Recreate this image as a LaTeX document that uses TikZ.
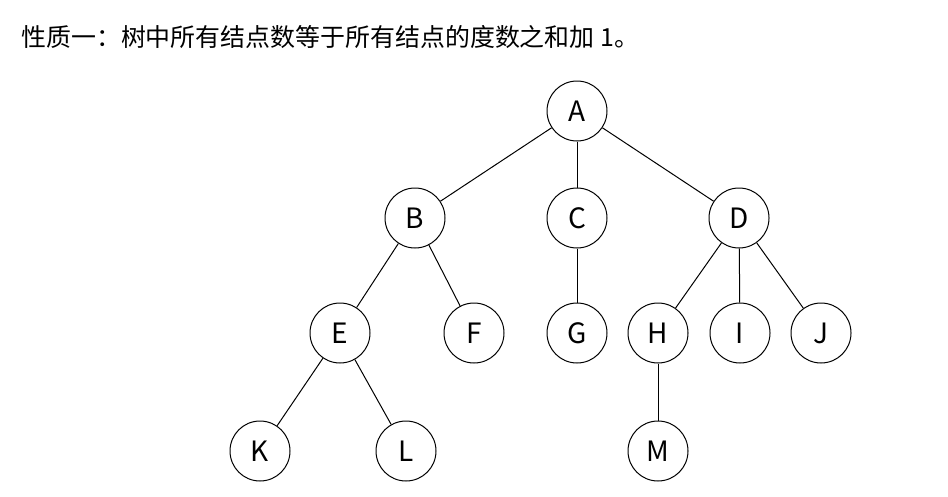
\documentclass[tikz,border=0pt]{standalone}
\usepackage{fontspec}
\setmainfont{Noto Sans CJK SC}
\usepackage{tikz}
\usetikzlibrary{positioning}

\begin{document}
\begin{tikzpicture}[x=0.75pt,y=-0.75pt,
  vertex/.style={draw,circle,line width=0.75pt,minimum size=45pt,inner sep=0pt,font=\fontsize{21}{21}\selectfont},
  link/.style={line width=0.75pt}]
  \useasboundingbox (0,0) rectangle (948,496);
  \node[anchor=base west,inner sep=0pt,font=\fontsize{18.7}{18.7}\selectfont] (title) at (21,46) {性质一：树中所有结点数等于所有结点的度数之和加 1。};
  % level 1
  \node[vertex] (A) at (577,111) {A};
  % level 2
  \node[vertex] (B) at (415,218) {B};
  \node[vertex] (C) at (577,218) {C};
  \node[vertex] (D) at (739,218) {D};
  % level 3
  \node[vertex] (E) at (340,333) {E};
  \node[vertex] (F) at (474,333) {F};
  \node[vertex] (G) at (577,333) {G};
  \node[vertex] (H) at (658,333) {H};
  \node[vertex] (I) at (740,333) {I};
  \node[vertex] (J) at (821,333) {J};
  % level 4
  \node[vertex] (K) at (260,451) {K};
  \node[vertex] (L) at (406,451) {L};
  \node[vertex] (M) at (658,451) {M};
  \draw[link] (A) -- (B);
  \draw[link] (A) -- (C);
  \draw[link] (A) -- (D);
  \draw[link] (B) -- (E);
  \draw[link] (B) -- (F);
  \draw[link] (C) -- (G);
  \draw[link] (D) -- (H);
  \draw[link] (D) -- (I);
  \draw[link] (D) -- (J);
  \draw[link] (E) -- (K);
  \draw[link] (E) -- (L);
  \draw[link] (H) -- (M);
\end{tikzpicture}
\end{document}
